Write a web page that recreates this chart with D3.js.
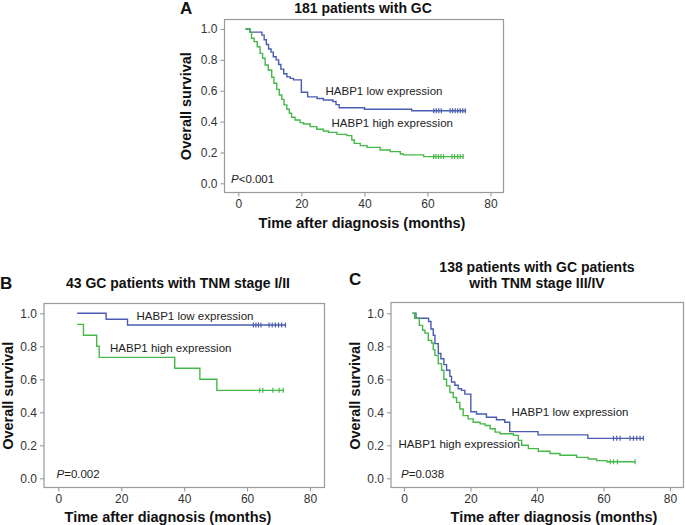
<!DOCTYPE html>
<html>
<head>
<meta charset="utf-8">
<script src="https://cdn.jsdelivr.net/npm/d3@7/dist/d3.min.js"></script>
<style>
  html, body { margin: 0; padding: 0; background: #fff; }
  svg { display: block; font-family: "Liberation Sans", Arial, sans-serif; }
</style>
</head>
<body>
<svg id="chart" width="686" height="525"></svg>
<script>
// ---------- DATA ----------
const xTicks = [0, 20, 40, 60, 80];
const yTicks = [0.0, 0.2, 0.4, 0.6, 0.8, 1.0];
const seriesNames = ["HABP1 low expression", "HABP1 high expression"];

// Panel A: 181 patients with GC
const aLowT = [2.3, 3.7, 7.5, 8.2, 8.9, 9.6, 10.4, 11.1, 12, 12.8, 13.5, 14.4, 15.4, 16.5, 17.5, 20, 22, 25, 27, 30, 31, 32, 40, 55, 72.3];
const aLowS = [1.0, 0.98, 0.96, 0.93, 0.9, 0.87, 0.85, 0.82, 0.8, 0.77, 0.74, 0.71, 0.69, 0.68, 0.67, 0.59, 0.56, 0.55, 0.54, 0.53, 0.51, 0.49, 0.48, 0.47, 0.47];
const aLowCens = [62, 62.8, 63.6, 64.4, 67.2, 68, 68.8, 69.6, 70.4, 71.2, 72];
const aHighT = [2.3, 3.7, 4.2, 5.0, 6.0, 6.9, 7.7, 8.5, 9.5, 10.6, 11.3, 12.2, 13.0, 13.8, 14.5, 15.4, 16.2, 16.9, 18.0, 19.6, 20.7, 22.8, 24.9, 27, 28.6, 31.3, 34.4, 36, 36.8, 38.7, 40.8, 45, 48.2, 51.4, 52.4, 58.8, 71.5];
const aHighS = [1.0, 0.978, 0.94, 0.918, 0.885, 0.842, 0.81, 0.767, 0.734, 0.687, 0.648, 0.609, 0.572, 0.544, 0.508, 0.48, 0.454, 0.428, 0.41, 0.393, 0.384, 0.367, 0.35, 0.339, 0.33, 0.317, 0.309, 0.281, 0.259, 0.244, 0.233, 0.216, 0.205, 0.19, 0.184, 0.173, 0.173];
const aHighCens = [62, 62.7, 63.5, 64.3, 65.1, 67.8, 68.6, 69.6, 70.4, 71.3];

// Panel B: 43 GC patients with TNM stage I/II
const bLowT = [6, 15.2, 22, 72.3];
const bLowS = [1.0, 0.964, 0.929, 0.929];
const bLowCens = [62, 62.8, 63.6, 64.4, 67, 68, 69, 70, 71, 72.2];
const bHighT = [6, 8, 12.2, 13, 37, 45, 50.4, 71.5];
const bHighS = [0.933, 0.867, 0.8, 0.733, 0.667, 0.6, 0.533, 0.533];
const bHighCens = [64, 65, 68.2, 70.2, 71.5];

// Panel C: 138 patients with GC, TNM stage III/IV
const cLowT = [2.6, 3.6, 7.4, 8.1, 8.8, 9.3, 10.3, 11.1, 12, 12.8, 13.8, 14.3, 15.3, 16.3, 17.3, 18.3, 20.1, 21.8, 24.8, 27.8, 30.3, 31.8, 40.3, 55.3, 72.2];
const cLowS = [1.0, 0.97, 0.95, 0.905, 0.867, 0.816, 0.756, 0.725, 0.689, 0.655, 0.618, 0.584, 0.564, 0.543, 0.533, 0.51, 0.403, 0.39, 0.37, 0.355, 0.34, 0.283, 0.263, 0.242, 0.242];
const cLowCens = [63, 64, 65, 68, 69, 70, 71, 72];
const cHighT = [2.5, 3.2, 4.6, 5.6, 6.3, 7.3, 8.3, 8.8, 9.3, 10.3, 11.3, 12.0, 12.8, 13.8, 14.8, 15.8, 16.8, 17.8, 19.3, 20.8, 22.9, 24.4, 25.9, 27.4, 28.9, 32.9, 34.4, 35.4, 37.4, 40.4, 43.9, 46.9, 51.9, 55.4, 57.9, 61, 69.5];
const cHighS = [1.0, 0.97, 0.927, 0.897, 0.88, 0.836, 0.82, 0.78, 0.745, 0.695, 0.655, 0.6, 0.56, 0.52, 0.49, 0.46, 0.42, 0.38, 0.36, 0.34, 0.33, 0.32, 0.30, 0.28, 0.27, 0.26, 0.23, 0.2, 0.18, 0.164, 0.15, 0.14, 0.127, 0.117, 0.107, 0.1, 0.1];
const cHighCens = [62, 63, 64.2, 69.5];

const panelLetters = ["A", "B", "C"];
const titles = [["181 patients with GC"], ["43 GC patients with TNM stage I/II"], ["138 patients with GC patients", "with TNM stage III/IV"]];
const pLabels = [["P", "<0.001"], ["P", "=0.002"], ["P", "=0.038"]];
const xLabel = "Time after diagnosis (months)";
const yLabel = "Overall survival";

// ---------- STYLE ----------
const BLUE = "#4a5cb0", GREEN = "#45b84a", FRAME = "#9a9a9a", TXT = "#222";

const svg = d3.select("#chart");

function drawPanel(cfg) {
  const g = svg.append("g");
  const x = d3.scaleLinear().domain([0, 80]).range([cfg.x0, cfg.x80]);
  const y = d3.scaleLinear().domain([0, 1]).range([cfg.y0, cfg.y1]);

  // frame
  g.append("rect")
    .attr("x", cfg.fl + 0.5).attr("y", cfg.ft + 0.5)
    .attr("width", cfg.fr - cfg.fl).attr("height", cfg.fb - cfg.ft)
    .attr("fill", "none").attr("stroke", FRAME).attr("stroke-width", 1.2);

  // axes (ticks only, frame forms axis line)
  const yAxis = g.append("g").attr("transform", `translate(${cfg.fl + 0.5},0)`)
    .call(d3.axisLeft(y).tickValues(yTicks).tickFormat(d3.format(".1f")).tickSize(4).tickPadding(3));
  const xAxis = g.append("g").attr("transform", `translate(0,${cfg.fb + 0.5})`)
    .call(d3.axisBottom(x).tickValues(xTicks).tickFormat(d3.format("d")).tickSize(4).tickPadding(3));
  [yAxis, xAxis].forEach(a => {
    a.select(".domain").remove();
    a.selectAll(".tick line").attr("stroke", FRAME).attr("stroke-width", 1.1);
    a.selectAll(".tick text").attr("fill", "#333").style("font-size", "12px")
      .style("font-family", "'Liberation Sans', Arial, sans-serif");
  });

  const line = d3.line().x(d => x(d[0])).y(d => y(d[1])).curve(d3.curveStepAfter);

  cfg.series.forEach(s => {
    const pts = s.t.map((t, i) => [t, s.s[i]]);
    g.append("path").attr("d", line(pts)).attr("fill", "none")
      .attr("stroke", s.color).attr("stroke-width", 1.4);
    const last = s.s[s.s.length - 1];
    g.selectAll(null).data(s.cens).enter().append("line")
      .attr("x1", d => x(d)).attr("x2", d => x(d))
      .attr("y1", y(last) - 2.5).attr("y2", y(last) + 2.5)
      .attr("stroke", s.color).attr("stroke-width", 1.2);
  });

  // curve labels
  cfg.labels.forEach(l => {
    g.append("text").attr("x", l.x).attr("y", l.y).text(l.text)
      .attr("fill", TXT).style("font-size", "11.5px");
  });

  // p value
  const pt = g.append("text").attr("x", cfg.px).attr("y", cfg.py).attr("fill", TXT).style("font-size", "11.5px");
  pt.append("tspan").style("font-style", "italic").text(cfg.p[0]);
  pt.append("tspan").text(cfg.p[1]);

  // titles
  cfg.title.forEach((t, i) => {
    g.append("text").attr("x", cfg.tx).attr("y", cfg.ty + i * 16).attr("text-anchor", "middle")
      .attr("dominant-baseline", "central").style("font-size", "14px").style("font-weight", "bold")
      .attr("fill", "#111").text(t);
  });
  g.append("text").attr("x", cfg.lx).attr("y", cfg.ly).attr("dominant-baseline", "central")
    .style("font-size", "17px").style("font-weight", "bold").attr("fill", "#111").text(cfg.letter);

  // axis labels
  g.append("text").attr("x", cfg.xlx).attr("y", cfg.xly).attr("text-anchor", "middle")
    .attr("dominant-baseline", "central").style("font-size", "14.5px").style("font-weight", "bold")
    .attr("fill", "#111").text(xLabel);
  g.append("text").attr("transform", `translate(${cfg.ylx},${(cfg.y0 + cfg.y1) / 2}) rotate(-90)`)
    .attr("text-anchor", "middle").attr("dominant-baseline", "central")
    .style("font-size", "14.5px").style("font-weight", "bold").attr("fill", "#111").text(yLabel);
}

drawPanel({
  letter: panelLetters[0], title: titles[0], p: pLabels[0],
  x0: 238.3, x80: 490.5, y0: 183.3, y1: 29,
  fl: 224, fr: 503, ft: 19, fb: 192,
  series: [
    { t: aLowT, s: aLowS, cens: aLowCens, color: BLUE },
    { t: aHighT, s: aHighS, cens: aHighCens, color: GREEN }
  ],
  labels: [
    { text: seriesNames[0], x: 325.5, y: 94.5 },
    { text: seriesNames[1], x: 331.5, y: 126.5 }
  ],
  px: 231, py: 182.5,
  tx: 363, ty: 8, lx: 180, ly: 8,
  xlx: 362, xly: 223, ylx: 186
});

drawPanel({
  letter: panelLetters[1], title: titles[1], p: pLabels[1],
  x0: 58.3, x80: 310, y0: 478.3, y1: 313.3,
  fl: 43.5, fr: 324, ft: 303, fb: 487,
  series: [
    { t: bLowT, s: bLowS, cens: bLowCens, color: BLUE },
    { t: bHighT, s: bHighS, cens: bHighCens, color: GREEN }
  ],
  labels: [
    { text: seriesNames[0], x: 136.5, y: 320 },
    { text: seriesNames[1], x: 110, y: 351.5 }
  ],
  px: 56.5, py: 478.3,
  tx: 178, ty: 283, lx: 0, ly: 283,
  xlx: 168, xly: 517, ylx: 8
});

drawPanel({
  letter: panelLetters[2], title: titles[2], p: pLabels[2],
  x0: 404, x80: 670, y0: 478.3, y1: 313.3,
  fl: 390.5, fr: 683, ft: 302, fb: 487,
  series: [
    { t: cLowT, s: cLowS, cens: cLowCens, color: BLUE },
    { t: cHighT, s: cHighS, cens: cHighCens, color: GREEN }
  ],
  labels: [
    { text: seriesNames[0], x: 511.5, y: 415.5 },
    { text: seriesNames[1], x: 398.5, y: 447.5 }
  ],
  px: 401, py: 478.3,
  tx: 537, ty: 267, lx: 349, ly: 279,
  xlx: 554, xly: 517, ylx: 355
});
</script>
</body>
</html>
